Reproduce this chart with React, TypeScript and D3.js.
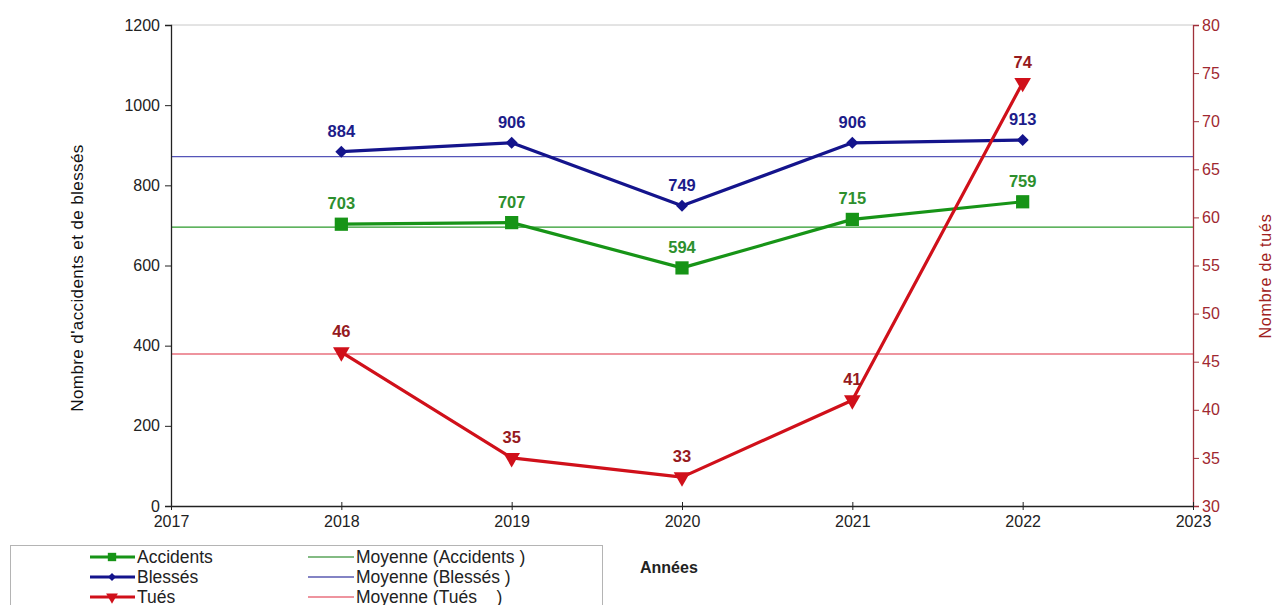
import { useEffect, useRef } from "react";
import * as d3 from "d3";

const years = [2018, 2019, 2020, 2021, 2022];
const accidents = [703, 707, 594, 715, 759];
const blesses = [884, 906, 749, 906, 913];
const tues = [46, 35, 33, 41, 74];
const leftTicks = [0, 200, 400, 600, 800, 1000, 1200];
const rightTicks = [30, 35, 40, 45, 50, 55, 60, 65, 70, 75, 80];
const xTicks = [2017, 2018, 2019, 2020, 2021, 2022, 2023];

const GREEN = "#179417";
const BLUE = "#14148c";
const RED = "#d0101a";
const FONT = "'Liberation Sans', Arial, sans-serif";

export default function App() {
  const svgRef = useRef<SVGSVGElement>(null);

  useEffect(() => {
    if (!svgRef.current) return;
    const svg = d3.select(svgRef.current);
    svg.selectAll("*").remove();

    const left = 171;
    const right = 1193;
    const top = 25;
    const bottom = 506;

    const x = d3.scaleLinear().domain([2017, 2023]).range([left, right]);
    const yL = d3.scaleLinear().domain([0, 1200]).range([bottom, top]);
    const yR = d3.scaleLinear().domain([30, 80]).range([bottom, top]);

    // top gridline
    svg.append("line")
      .attr("x1", left).attr("x2", right)
      .attr("y1", yL(1200)).attr("y2", yL(1200))
      .attr("stroke", "#c8c8c8").attr("stroke-width", 1);

    // mean lines
    const means = [
      { v: d3.mean(accidents)!, y: yL, color: "#2a9a2a" },
      { v: d3.mean(blesses)!, y: yL, color: "#5555b8" },
      { v: d3.mean(tues)!, y: yR, color: "#e8707e" },
    ];
    means.forEach((m) => {
      svg.append("line")
        .attr("x1", left).attr("x2", right)
        .attr("y1", m.y(m.v)).attr("y2", m.y(m.v))
        .attr("stroke", m.color).attr("stroke-width", 1.3);
    });

    // left axis
    const gl = svg.append("g").attr("transform", `translate(${left},0)`)
      .call(d3.axisLeft(yL).tickValues(leftTicks).tickSize(6).tickPadding(5).tickFormat(d3.format("d")));
    gl.select(".domain").attr("stroke", "#222").attr("stroke-width", 1.3);
    gl.selectAll(".tick line").attr("stroke", "#222");
    gl.selectAll("text").attr("font-family", FONT).attr("font-size", 16).attr("fill", "#222");

    // right axis
    const gr = svg.append("g").attr("transform", `translate(${right},0)`)
      .call(d3.axisRight(yR).tickValues(rightTicks).tickSize(6).tickPadding(3));
    gr.select(".domain").attr("stroke", "#a0303a").attr("stroke-width", 1.3);
    gr.selectAll(".tick line").attr("stroke", "#a0303a");
    gr.selectAll("text").attr("font-family", FONT).attr("font-size", 16).attr("fill", "#a02830");

    // bottom axis
    const gb = svg.append("g").attr("transform", `translate(0,${bottom})`)
      .call(d3.axisBottom(x).tickValues(xTicks).tickSizeInner(-4).tickSizeOuter(0).tickPadding(7).tickFormat(d3.format("d")));
    gb.select(".domain").attr("stroke", "#222").attr("stroke-width", 1.3);
    gb.selectAll(".tick line").attr("stroke", "#222").attr("y2", 4).attr("y1", -4);
    gb.selectAll("text").attr("font-family", FONT).attr("font-size", 16).attr("fill", "#222").attr("dy", "0.85em");

    // axis titles
    svg.append("text")
      .attr("transform", `translate(83,278) rotate(-90)`)
      .attr("text-anchor", "middle")
      .attr("font-family", FONT).attr("font-size", 17).attr("fill", "#111")
      .attr("letter-spacing", 0.4)
      .text("Nombre d'accidents et de blessés");
    svg.append("text")
      .attr("transform", `translate(1271,276) rotate(-90)`)
      .attr("text-anchor", "middle")
      .attr("font-family", FONT).attr("font-size", 16).attr("fill", "#a02020")
      .attr("letter-spacing", 0.8)
      .text("Nombre de tués");
    svg.append("text")
      .attr("x", 640).attr("y", 573)
      .attr("font-family", FONT).attr("font-size", 16).attr("font-weight", "bold").attr("fill", "#222")
      .text("Années");

    const series = [
      { data: accidents, y: yL, color: GREEN, label: "#2d8f2d", marker: d3.symbolSquare, size: 175, rot: 0 },
      { data: blesses, y: yL, color: BLUE, label: "#1c1c8a", marker: d3.symbolSquare, size: 72, rot: 45 },
      { data: tues, y: yR, color: RED, label: "#961a1e", marker: d3.symbolTriangle, size: 120, rot: 180 },
    ];

    series.forEach((s) => {
      const line = d3.line<number>()
        .x((_, i) => x(years[i]))
        .y((d) => s.y(d));
      svg.append("path")
        .attr("d", line(s.data) as string)
        .attr("fill", "none")
        .attr("stroke", s.color)
        .attr("stroke-width", 3.2)
        .attr("stroke-linejoin", "round");
      const sym = d3.symbol().type(s.marker).size(s.size);
      s.data.forEach((d, i) => {
        svg.append("path")
          .attr("d", sym() as string)
          .attr("transform", `translate(${x(years[i])},${s.y(d)}) rotate(${s.rot})`)
          .attr("fill", s.color);
        svg.append("text")
          .attr("x", x(years[i]))
          .attr("y", s.y(d) - 15)
          .attr("text-anchor", "middle")
          .attr("font-family", FONT).attr("font-size", 16.5).attr("font-weight", "bold")
          .attr("fill", s.label)
          .text(d);
      });
    });

    // legend
    const lg = svg.append("g");
    lg.append("rect")
      .attr("x", 10.5).attr("y", 545.5).attr("width", 592).attr("height", 70)
      .attr("fill", "white").attr("stroke", "#b4b4b4");
    const entries = [
      { name: "Accidents", color: GREEN, marker: d3.symbolSquare, size: 70, rot: 0 },
      { name: "Blessés", color: BLUE, marker: d3.symbolSquare, size: 32, rot: 45 },
      { name: "Tués", color: RED, marker: d3.symbolTriangle, size: 60, rot: 180 },
    ];
    const meanNames = ["Moyenne (Accidents )", "Moyenne (Blessés )", "Moyenne (Tués    )"];
    const meanColors = ["#5aa55a", "#5a5ab0", "#e8707e"];
    entries.forEach((e, i) => {
      const yy = 557 + i * 20;
      lg.append("line").attr("x1", 90).attr("x2", 135).attr("y1", yy).attr("y2", yy)
        .attr("stroke", e.color).attr("stroke-width", 3);
      lg.append("path").attr("d", d3.symbol().type(e.marker).size(e.size)() as string)
        .attr("transform", `translate(112,${yy}) rotate(${e.rot})`).attr("fill", e.color);
      lg.append("text").attr("x", 137).attr("y", yy + 6)
        .attr("font-family", FONT).attr("font-size", 17.5).attr("fill", "#222").text(e.name);
      lg.append("line").attr("x1", 308).attr("x2", 354).attr("y1", yy).attr("y2", yy)
        .attr("stroke", meanColors[i]).attr("stroke-width", 1.3);
      lg.append("text").attr("x", 356).attr("y", yy + 6)
        .attr("font-family", FONT).attr("font-size", 17.5).attr("fill", "#222")
        .attr("xml:space", "preserve").style("white-space", "pre").text(meanNames[i]);
    });
  }, []);

  return (
    <svg
      ref={svgRef}
      width={1276}
      height={605}
      style={{ position: "absolute", left: 0, top: 0, background: "white" }}
    />
  );
}
